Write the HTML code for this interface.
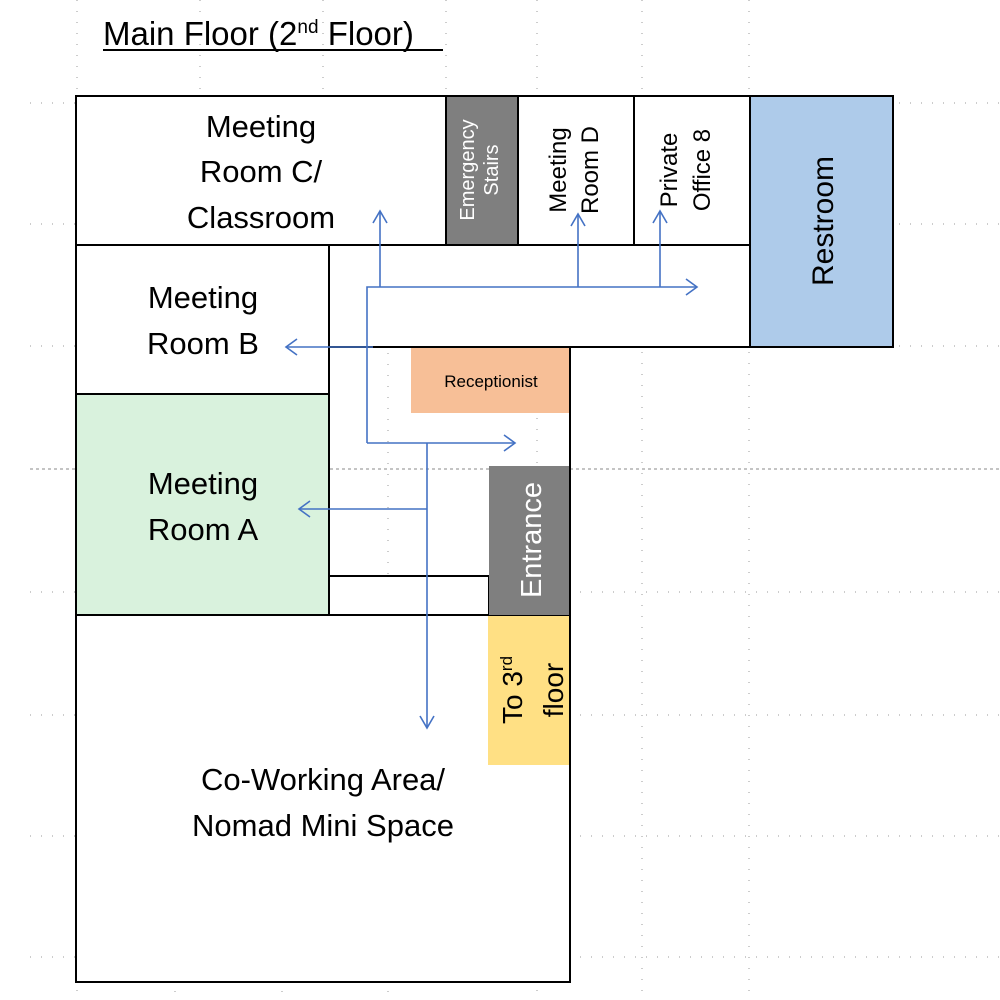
<!DOCTYPE html>
<html><head><meta charset="utf-8"><style>
html,body{margin:0;padding:0;background:#fff;}
svg{display:block;font-family:"Liberation Sans",sans-serif;}
</style></head><body>
<svg width="1000" height="1000" viewBox="0 0 1000 1000" xmlns="http://www.w3.org/2000/svg">
<g stroke="#999" stroke-width="1" stroke-dasharray="1,10" fill="none">
<line x1="30" y1="103" x2="1000" y2="103"/>
<line x1="30" y1="224" x2="1000" y2="224"/>
<line x1="30" y1="346" x2="1000" y2="346"/>
<line x1="30" y1="592" x2="1000" y2="592"/>
<line x1="30" y1="715" x2="1000" y2="715"/>
<line x1="30" y1="836" x2="1000" y2="836"/>
<line x1="30" y1="957" x2="1000" y2="957"/>
<line x1="77" y1="0" x2="77" y2="1000"/>
<line x1="175" y1="100" x2="175" y2="1000"/>
<line x1="282" y1="100" x2="282" y2="1000"/>
<line x1="388" y1="100" x2="388" y2="1000"/>
<line x1="537" y1="0" x2="537" y2="1000"/>
<line x1="642" y1="0" x2="642" y2="1000"/>
<line x1="749" y1="0" x2="749" y2="1000"/>
<line x1="200" y1="0" x2="200" y2="100"/>
<line x1="323" y1="0" x2="323" y2="100"/>
<line x1="446" y1="0" x2="446" y2="100"/>
</g>
<line x1="30" y1="469" x2="1000" y2="469" stroke="#888" stroke-dasharray="3,3"/>

<text x="103" y="45" font-size="33">Main Floor (2<tspan font-size="19" dy="-12">nd</tspan><tspan dy="12"> Floor)</tspan></text>
<line x1="103" y1="50" x2="443" y2="50" stroke="#000" stroke-width="2"/>

<g stroke="#000" stroke-width="2">
<rect x="76" y="96" width="370" height="149" fill="#fff"/>
<rect x="446" y="96" width="72" height="149" fill="#7f7f7f"/>
<rect x="518" y="96" width="116" height="149" fill="#fff"/>
<rect x="634" y="96" width="116" height="149" fill="#fff"/>
<rect x="750" y="96" width="143" height="251" fill="#aecbea"/>
<rect x="329" y="245" width="421" height="102" fill="#fff"/>
<rect x="76" y="245" width="253" height="149" fill="#fff"/>
<rect x="76" y="394" width="253" height="221" fill="#d9f2dd"/>
<rect x="76" y="615" width="494" height="367" fill="#fff"/>
<line x1="570" y1="347" x2="570" y2="615"/>
<line x1="411" y1="347" x2="570" y2="347"/>
<rect x="329" y="576" width="160" height="39" fill="#fff"/>
<rect x="489" y="466" width="81" height="149" fill="#7f7f7f" stroke="none"/>
<line x1="570" y1="466" x2="570" y2="615"/>
</g>
<rect x="411" y="348" width="158" height="65" fill="#f7bf97"/>
<rect x="488" y="616" width="82" height="149" fill="#ffe084"/>
<line x1="570" y1="615" x2="570" y2="982" stroke="#000" stroke-width="2"/>

<g font-size="31" text-anchor="middle" fill="#000">
<text x="261" y="137">Meeting</text>
<text x="261" y="182">Room C/</text>
<text x="261" y="228">Classroom</text>
<text x="203" y="308">Meeting</text>
<text x="203" y="354">Room B</text>
<text x="203" y="494">Meeting</text>
<text x="203" y="540">Room A</text>
<text x="323" y="790">Co-Working Area/</text>
<text x="323" y="836">Nomad Mini Space</text>
</g>
<text x="491" y="387" font-size="17" text-anchor="middle">Receptionist</text>
<g font-size="20" text-anchor="middle">
<text transform="translate(474,170) rotate(-90)" fill="#fff"><tspan x="0" y="0">Emergency</tspan><tspan x="0" y="24">Stairs</tspan></text>
<text transform="translate(566,170) rotate(-90)" font-size="24"><tspan x="0" y="0">Meeting</tspan><tspan x="0" y="32">Room D</tspan></text>
<text transform="translate(680,170) rotate(-90)" font-size="24"><tspan x="0" y="-3">Private</tspan><tspan x="0" y="30">Office 8</tspan></text>
</g>
<text transform="translate(833,221) rotate(-90)" font-size="30" text-anchor="middle">Restroom</text>
<text transform="translate(541,540) rotate(-90)" font-size="29" text-anchor="middle" fill="#fff">Entrance</text>
<text transform="translate(522,690) rotate(-90)" font-size="28" text-anchor="middle">To 3<tspan font-size="17" dy="-10">rd</tspan></text>
<text transform="translate(563,690) rotate(-90)" font-size="28" text-anchor="middle">floor</text>

<g stroke="#4472c4" stroke-width="1.6" fill="none">
<polyline points="367,443 367,287 697,287"/>
<polyline points="686,279 697,287 686,295"/>
<line x1="380" y1="287" x2="380" y2="211"/>
<polyline points="373,223 380,211 387,223"/>
<line x1="578" y1="287" x2="578" y2="214"/>
<polyline points="571,226 578,214 585,226"/>
<line x1="660" y1="287" x2="660" y2="211"/>
<polyline points="653,223 660,211 667,223"/>
<line x1="373" y1="347" x2="286" y2="347"/>
<polyline points="297,339 286,347 297,355"/>
<line x1="367" y1="443" x2="515" y2="443"/>
<polyline points="504,435 515,443 504,451"/>
<line x1="427" y1="443" x2="427" y2="728"/>
<polyline points="420,716 427,728 434,716"/>
<line x1="427" y1="509" x2="299" y2="509"/>
<polyline points="310,501 299,509 310,517"/>
</g>
</svg>
</body></html>
